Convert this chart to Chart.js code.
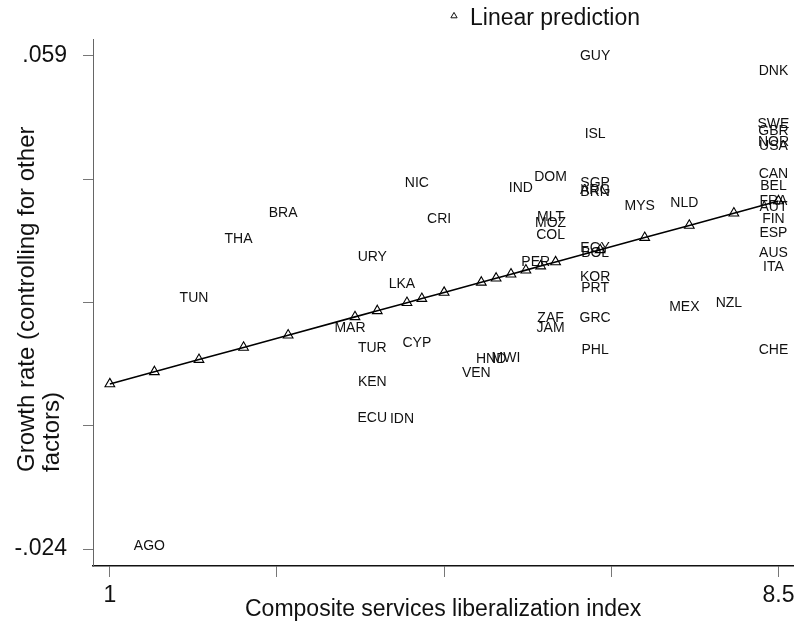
<!DOCTYPE html>
<html>
<head>
<meta charset="utf-8">
<script src="https://cdn.jsdelivr.net/npm/chart.js@4.4.1/dist/chart.umd.min.js"></script>
<style>
  html, body { margin: 0; padding: 0; background: #fff; }
  #wrap { width: 800px; height: 623px; position: relative; }
</style>
</head>
<body>
<div id="wrap"><canvas id="c"></canvas></div>
<script>
// Country codes, services liberalization index and conditional growth rate
const countries = [
  'AGO','TUN','THA','BRA','MAR','URY','TUR','KEN','ECU','LKA','IDN','NIC','CYP','CRI',
  'VEN','HND','MWI','IND','PER','DOM','MLT','MOZ','COL','ZAF','JAM',
  'GUY','ISL','SGP','ARG','BRN','EGY','BOL','KOR','PRT','GRC','PHL',
  'MYS','NLD','MEX','NZL',
  'DNK','SWE','GBR','NOR','USA','CAN','BEL','FRA','AUT','FIN','ESP','AUS','ITA','CHE'
];
const liberalization = [
  1.5, 2.0, 2.5, 3.0, 3.75, 4.0, 4.0, 4.0, 4.0, 4.333, 4.333, 4.5, 4.5, 4.75,
  5.167, 5.333, 5.5, 5.667, 5.833, 6.0, 6.0, 6.0, 6.0, 6.0, 6.0,
  6.5, 6.5, 6.5, 6.5, 6.5, 6.5, 6.5, 6.5, 6.5, 6.5, 6.5,
  7.0, 7.5, 7.5, 8.0,
  8.5, 8.5, 8.5, 8.5, 8.5, 8.5, 8.5, 8.5, 8.5, 8.5, 8.5, 8.5, 8.5, 8.5
];
const growth = [
  -0.0235, 0.01826, 0.02819, 0.03257, 0.01321, 0.02516, 0.00984, 0.00412, -0.00194, 0.02062, -0.00211, 0.03762, 0.01068, 0.03156,
  0.00563, 0.00799, 0.00816, 0.03678, 0.02432, 0.03863, 0.0319, 0.03089, 0.02887, 0.01489, 0.01321,
  0.059, 0.04587, 0.03762, 0.03644, 0.0361, 0.02668, 0.02584, 0.02179, 0.01994, 0.01489, 0.00951,
  0.03375, 0.03425, 0.01674, 0.01742,
  0.05647, 0.04755, 0.04637, 0.04452, 0.04385, 0.03913, 0.03711, 0.03459, 0.03358, 0.03156, 0.0292, 0.02584, 0.02348, 0.00951
];

// Fitted values of the linear prediction
const predX = [1.0, 1.5, 2.0, 2.5, 3.0, 3.75, 4.0, 4.333, 4.5, 4.75, 5.167, 5.333, 5.5, 5.667, 5.833, 6.0, 6.5, 7.0, 7.5, 8.0, 8.5];
const predY = [0.00378, 0.00583, 0.00789, 0.00994, 0.01200, 0.01508, 0.01610, 0.01747, 0.01816, 0.01919, 0.02090, 0.02158,
               0.02227, 0.02295, 0.02364, 0.02432, 0.02637, 0.02843, 0.03048, 0.03254, 0.03459];

// Axis ticks: only the end points carry a label
const xTicks = [1, 2.875, 4.75, 6.625, 8.5];
const xTickLabels = ['1', '', '', '', '8.5'];
const yTicks = [-0.024, -0.00325, 0.0175, 0.03825, 0.059];
const yTickLabels = ['-.024', '', '', '', '.059'];

const FAMILY = '"Liberation Sans", Arial, Helvetica, sans-serif';

const countryLabels = {
  id: 'countryLabels',
  beforeDatasetsDraw(chart) {
    const meta = chart.getDatasetMeta(0);
    const ctx = chart.ctx;
    ctx.save();
    ctx.font = '14px ' + FAMILY;
    ctx.fillStyle = '#111';
    ctx.textAlign = 'center';
    ctx.textBaseline = 'middle';
    meta.data.forEach((pt, i) => ctx.fillText(countries[i], pt.x - 5, pt.y));
    ctx.restore();
  }
};

const extras = {
  id: 'extras',
  afterDraw(chart) {
    const ctx = chart.ctx;
    ctx.save();
    // y axis title, two lines reading upward
    ctx.font = '24px ' + FAMILY;
    ctx.fillStyle = '#111';
    ctx.textAlign = 'left';
    ctx.textBaseline = 'alphabetic';
    const lines = ['Growth rate (controlling for other', 'factors)'];
    const baseX = [34, 59];
    lines.forEach((t, i) => {
      ctx.save();
      ctx.translate(baseX[i], 472);
      ctx.rotate(-Math.PI / 2);
      ctx.fillText(t, 0, 0);
      ctx.restore();
    });
    // legend key
    const kx = 454, ky = 16, r = 3.6;
    ctx.strokeStyle = '#111';
    ctx.lineWidth = 1;
    ctx.beginPath();
    ctx.moveTo(kx, ky - r);
    ctx.lineTo(kx + r * 0.866, ky + r / 2);
    ctx.lineTo(kx - r * 0.866, ky + r / 2);
    ctx.closePath();
    ctx.stroke();
    ctx.font = '23px ' + FAMILY;
    ctx.textBaseline = 'middle';
    ctx.fillText('Linear prediction', 470, 19);
    ctx.restore();
  }
};

const xMin = 1 - 17 / 90, xMax = xMin + 707 / 90;
const yMin = -0.024 - 17 / 5940, yMax = 0.059 + 17 / 5940;

new Chart(document.getElementById('c'), {
  type: 'scatter',
  data: {
    datasets: [
      {
        label: 'Countries',
        data: liberalization.map((x, i) => ({ x, y: growth[i] })),
        pointRadius: 0,
        pointHoverRadius: 0
      },
      {
        label: 'Linear prediction',
        data: predX.map((x, i) => ({ x, y: predY[i] })),
        showLine: true,
        borderColor: '#000',
        borderWidth: 1.6,
        pointStyle: 'triangle',
        pointRadius: 5.6,
        pointBorderWidth: 1.1,
        pointBorderColor: '#000',
        pointBackgroundColor: 'rgba(0,0,0,0)'
      }
    ]
  },
  options: {
    responsive: true,
    maintainAspectRatio: false,
    animation: false,
    events: [],
    layout: { padding: { top: 39, left: 0, right: 0, bottom: 0 } },
    plugins: { legend: { display: false }, tooltip: { enabled: false } },
    scales: {
      x: {
        type: 'linear',
        min: xMin,
        max: xMax,
        afterBuildTicks: s => { s.ticks = xTicks.map(v => ({ value: v })); },
        afterFit: s => { s.height = 57; s.paddingLeft = 0; s.paddingRight = 0; },
        ticks: {
          callback: (v, i) => xTickLabels[i],
          autoSkip: false,
          maxRotation: 0,
          padding: 5,
          color: '#111',
          font: { size: 23, family: FAMILY, lineHeight: 1.2 }
        },
        grid: { display: true, drawOnChartArea: false, drawTicks: true, tickLength: 11, color: '#777', lineWidth: 1 },
        border: { display: true, color: '#111', width: 1.5 },
        title: {
          display: true,
          text: 'Composite services liberalization index',
          color: '#111',
          font: { size: 23, family: FAMILY, lineHeight: 1 },
          padding: { top: 0, bottom: 2 }
        }
      },
      y: {
        type: 'linear',
        min: yMin,
        max: yMax,
        afterBuildTicks: s => { s.ticks = yTicks.map(v => ({ value: v })); },
        afterFit: s => { s.width = 93; s.paddingTop = 0; s.paddingBottom = 0; },
        ticks: {
          callback: (v, i) => yTickLabels[i],
          autoSkip: false,
          padding: 16,
          color: '#111',
          font: { size: 23, family: FAMILY }
        },
        grid: { display: true, drawOnChartArea: false, drawTicks: true, tickLength: 10, color: '#777', lineWidth: 1 },
        border: { display: true, color: '#666', width: 1 }
      }
    }
  },
  plugins: [countryLabels, extras]
});
</script>
</body>
</html>
